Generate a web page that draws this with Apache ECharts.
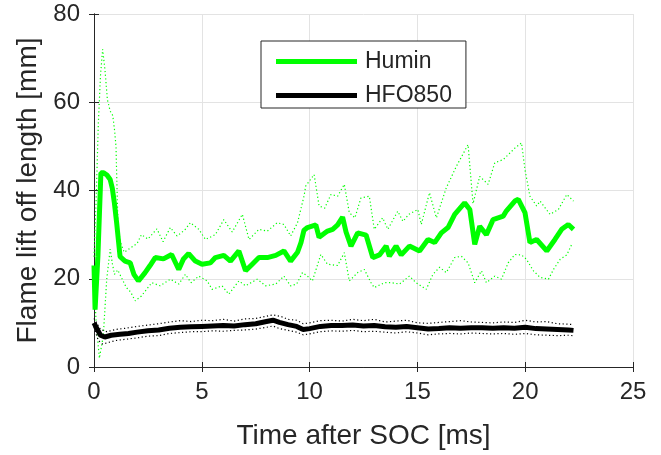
<!DOCTYPE html>
<html>
<head>
<meta charset="utf-8">
<script src="https://cdn.jsdelivr.net/npm/echarts@6/dist/echarts.min.js"></script>
<style>
  html, body { margin: 0; padding: 0; background: #fff; }
  #chart { width: 661px; height: 455px; }
</style>
</head>
<body>
<div id="chart"></div>
<script>
// values, [time ms, length mm]
var huminMean = [[0,23],[0.05,13],[0.18,25],[0.32,44],[0.45,44],[0.6,43.5],[0.75,42.5],[0.85,40.5],[0.95,37],[1.05,32.7],[1.21,25],[1.44,24],[1.68,23.6],[1.85,21],[2.06,19.5],[2.37,21.4],[2.6,23],[2.84,24.8],[3.22,24.5],[3.6,25.5],[3.93,22.1],[4.15,24.5],[4.39,25.7],[4.7,24],[5.01,23.3],[5.4,23.6],[5.63,24.8],[6.02,25.3],[6.33,24],[6.72,26.3],[7.03,21.8],[7.34,23.3],[7.65,24.8],[8.04,24.8],[8.43,25.3],[8.81,26.3],[9.12,24],[9.44,26],[9.6,28.2],[9.74,31],[9.9,31.6],[10.29,32.2],[10.44,29.4],[10.83,30.8],[11.07,31.2],[11.3,32.2],[11.53,34],[11.69,30.6],[11.92,27.4],[12.23,30.4],[12.62,29.9],[12.93,24.8],[13.24,25.4],[13.55,27.4],[13.7,25.1],[14.01,27.4],[14.25,25.4],[14.63,27.4],[15.1,26.3],[15.49,28.9],[15.8,28.2],[16.11,30.4],[16.42,31.6],[16.73,34.6],[17.19,37.2],[17.43,35.7],[17.66,27.8],[17.89,31.9],[18.2,30],[18.51,33.4],[18.98,34.2],[19.13,35.4],[19.52,37.6],[19.68,38],[19.99,35],[20.22,28.2],[20.53,28.9],[21.0,26.3],[21.38,28.9],[21.69,31.2],[22.0,32.3],[22.24,31.2]];

var huminUpper = [[0,25],[0.1,38],[0.2,55],[0.3,66],[0.4,72],[0.51,67.3],[0.62,60.6],[0.75,58],[0.87,57],[0.95,53.8],[1.02,50],[1.07,40],[1.12,31],[1.25,28],[1.4,26],[1.7,27],[2.0,28],[2.2,30],[2.5,29],[2.92,31.3],[3.2,28.4],[3.54,31.6],[3.85,29.7],[4.2,31],[4.47,32.7],[4.86,31.2],[5.17,28.9],[5.63,30],[6.02,33.4],[6.41,30.6],[6.88,34.6],[7.19,28.9],[7.65,31.2],[8.04,30.8],[8.5,32.7],[8.81,32.3],[9.12,29.7],[9.44,32.7],[9.74,38.7],[9.82,41],[10.21,43.6],[10.44,36.5],[10.7,36],[10.99,39.1],[11.3,38.7],[11.61,41.4],[11.84,35],[12.1,33.8],[12.38,38.3],[12.77,38.7],[13.0,31.2],[13.39,33.8],[13.63,31.2],[14.09,35.3],[14.33,33],[14.6,34.6],[15.02,35.7],[15.18,32.3],[15.56,39.5],[15.88,33.8],[16.34,40.6],[16.81,45.5],[17.35,50.4],[17.58,37],[17.89,43.2],[18.28,41.4],[18.59,46.3],[18.98,47],[19.52,49.6],[19.83,50.8],[19.99,44.7],[20.22,38.7],[20.53,36.5],[20.69,37.6],[21.15,34.6],[21.54,35.7],[21.93,39.1],[22.24,37.6]];

var huminLower = [[0,20],[0.1,10],[0.25,2],[0.43,7],[0.59,19.9],[0.75,26.7],[0.85,23.5],[0.95,21],[1.1,22],[1.3,20],[1.5,18],[1.7,17],[1.91,15],[2.2,16.1],[2.68,19.1],[3.07,18.4],[3.54,19.9],[3.93,18.8],[4.24,21],[4.5,19.1],[4.86,20.6],[5.25,19.5],[5.48,17.6],[5.94,18.4],[6.25,16.5],[6.72,19.5],[7.03,18.4],[7.57,19.9],[7.96,18.4],[8.43,18.8],[8.81,20.6],[9.12,18.4],[9.4,18.8],[9.67,21.4],[9.9,20.6],[10.13,19.5],[10.52,25.5],[10.83,23.3],[11.3,23],[11.61,25.9],[11.84,19.5],[12.23,21.4],[12.54,22.1],[12.85,19.1],[13.0,18],[13.47,19.1],[13.8,19.1],[14.17,18.8],[14.63,20.6],[14.94,19.1],[15.41,17.6],[15.72,21],[16.03,22.6],[16.34,21.4],[16.73,24.8],[17.04,25.1],[17.35,23.6],[17.66,19.1],[17.97,21.8],[18.2,19.1],[18.59,20.6],[18.9,19.9],[19.21,23.6],[19.52,25.5],[19.83,25.4],[20.06,24.4],[20.38,21.8],[20.69,20.3],[21.08,19.9],[21.31,22.1],[21.62,24.4],[21.93,25.4],[22.16,27.8]];

var hfoMean = [[0,10],[0.1,9],[0.3,7.2],[0.5,6.8],[0.8,7.2],[1.2,7.4],[1.6,7.6],[2.0,7.9],[2.5,8.2],[3.0,8.4],[3.5,8.8],[4.0,9.0],[4.5,9.1],[5.0,9.2],[5.5,9.3],[6.0,9.4],[6.5,9.3],[7.0,9.6],[7.5,9.8],[8.0,10.3],[8.3,10.6],[8.6,10.1],[9.0,9.6],[9.4,9.2],[9.7,8.5],[10.0,8.7],[10.5,9.2],[11.0,9.4],[11.5,9.4],[12.0,9.5],[12.5,9.3],[13.0,9.4],[13.5,9.1],[14.0,9.0],[14.5,9.2],[15.0,8.9],[15.5,8.6],[16.0,8.7],[16.5,8.9],[17.0,8.8],[17.5,8.9],[18.0,8.9],[18.5,8.8],[19.0,8.9],[19.5,8.8],[20.0,9.0],[20.5,8.7],[21.0,8.6],[21.5,8.5],[22.0,8.4],[22.24,8.3]];

var hfoUpper = [[0,11],[0.3,8.5],[0.6,8],[1,8.5],[1.5,8.8],[2,9.2],[2.5,9.5],[3,9.8],[3.5,10.2],[4,10.5],[4.5,10.3],[5,10.6],[5.5,10.5],[6,10.8],[6.5,10.4],[7,10.9],[7.5,11.0],[8,11.5],[8.3,11.8],[8.7,11.4],[9,10.8],[9.4,10.6],[9.7,9.8],[10,10],[10.5,10.5],[11,10.6],[11.5,10.4],[12,10.8],[12.5,10.5],[13,10.8],[13.5,10.2],[14,10.4],[14.5,10.6],[15,10],[15.5,9.9],[16,10.1],[16.5,10.3],[17,10.5],[17.5,10.2],[18,10.1],[18.5,10.0],[19,10.2],[19.5,10.1],[20,10.6],[20.5,10.2],[21,10.3],[21.5,9.8],[22,9.7],[22.24,9.6]];

var hfoLower = [[0,9],[0.2,6],[0.4,5.2],[0.7,5.6],[1,6],[1.5,6.3],[2,6.6],[2.5,7],[3,7.1],[3.5,7.6],[4,7.8],[4.5,8],[5,8],[5.5,8.2],[6,8.1],[6.5,8.3],[7,8.4],[7.5,8.6],[8,9],[8.3,9.3],[8.6,8.7],[9,8.3],[9.4,7.9],[9.7,7.3],[10,7.5],[10.5,8],[11,8.2],[11.5,8.1],[12,8.3],[12.5,8],[13,8.1],[13.5,7.9],[14,7.7],[14.5,8],[15,7.7],[15.5,7.3],[16,7.5],[16.5,7.6],[17,7.5],[17.5,7.7],[18,7.6],[18.5,7.5],[19,7.6],[19.5,7.4],[20,7.6],[20.5,7.3],[21,7.2],[21.5,7.1],[22,7.2],[22.24,7.1]];

var xTicks = [0, 5, 10, 15, 20, 25];
var yTicks = [0, 20, 40, 60, 80];

var FONT = '"Liberation Sans", Arial, sans-serif';
var TXT = '#262626';
var GREEN = '#00ff00';

function dotted(name, data, color) {
    return {
        name: name, type: 'line', data: data, showSymbol: false, silent: true,
        lineStyle: { color: color, width: 1.2, type: [1.2, 2.5] }, z: 2
    };
}
function solid(name, data, color) {
    return {
        name: name, type: 'line', data: data, showSymbol: false,
        itemStyle: { color: color },
        lineStyle: { color: color, width: 5 }, z: 3
    };
}

var chart = echarts.init(document.getElementById('chart'), null, { renderer: 'canvas' });
chart.setOption({
    animation: false,
    backgroundColor: '#fff',
    grid: { left: 94, right: 28, top: 14, bottom: 87 },
    legend: {
        data: ['Humin', 'HFO850'],
        orient: 'vertical', left: 261, top: 41,
        padding: [9, 14, 1, 15], itemGap: 11,
        itemWidth: 81, itemHeight: 5, icon: 'rect',
        borderColor: TXT, borderWidth: 1, backgroundColor: '#fff',
        textStyle: { fontFamily: FONT, fontSize: 23, color: TXT, padding: [0, 0, 0, 3] }
    },
    xAxis: [{
        type: 'value', min: xTicks[0], max: xTicks[xTicks.length - 1], interval: 5,
        name: 'Time after SOC [ms]', nameLocation: 'middle', nameGap: 55,
        nameTextStyle: { fontFamily: FONT, fontSize: 28, color: TXT },
        axisLine: { lineStyle: { color: TXT, width: 1 } },
        axisTick: { inside: true, length: 5, lineStyle: { color: TXT } },
        axisLabel: { fontFamily: FONT, fontSize: 24, color: TXT, margin: 13 },
        splitLine: { show: true, lineStyle: { color: '#e3e3e3', width: 1 } }
    }, {
        type: 'value', position: 'top', min: 0, max: 25, interval: 5,
        axisLine: { lineStyle: { color: TXT, width: 1 } },
        axisTick: { inside: true, length: 5, lineStyle: { color: TXT } },
        axisLabel: { show: false }, splitLine: { show: false }
    }],
    yAxis: [{
        type: 'value', min: yTicks[0], max: yTicks[yTicks.length - 1], interval: 20,
        name: 'Flame lift off length [mm]', nameLocation: 'middle', nameGap: 52,
        nameTextStyle: { fontFamily: FONT, fontSize: 28, color: TXT },
        axisLine: { show: true, lineStyle: { color: TXT, width: 1 } },
        axisTick: { show: true, inside: true, length: 5, lineStyle: { color: TXT } },
        axisLabel: { fontFamily: FONT, fontSize: 24, color: TXT, margin: 14 },
        splitLine: { show: true, lineStyle: { color: '#e3e3e3', width: 1 } }
    }, {
        type: 'value', position: 'right', min: 0, max: 80, interval: 20,
        axisLine: { show: true, lineStyle: { color: TXT, width: 1 } },
        axisTick: { show: true, inside: true, length: 5, lineStyle: { color: TXT } },
        axisLabel: { show: false }, splitLine: { show: false }
    }],
    series: [
        dotted('huminUpper', huminUpper, GREEN),
        dotted('huminLower', huminLower, GREEN),
        dotted('hfoUpper', hfoUpper, '#000'),
        dotted('hfoLower', hfoLower, '#000'),
        solid('Humin', huminMean, GREEN),
        solid('HFO850', hfoMean, '#000')
    ]
});
</script>
</body>
</html>
